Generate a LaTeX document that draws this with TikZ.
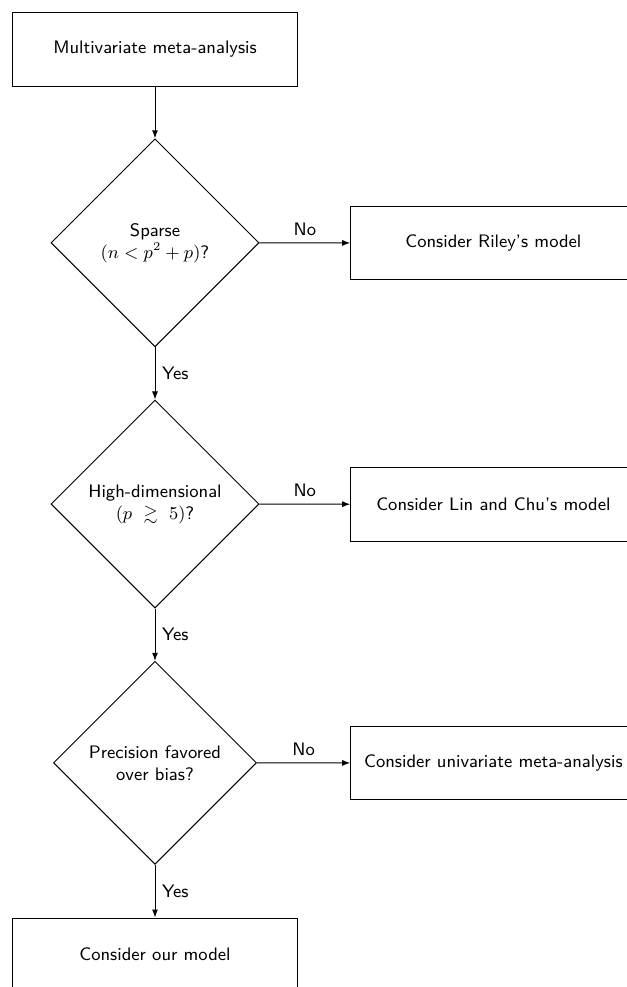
\documentclass[tikz,border=0pt]{standalone}
\usepackage{amssymb}
\usetikzlibrary{shapes.geometric,arrows.meta}
\begin{document}
\begin{tikzpicture}[x=0.5pt,y=-0.5pt,
  font=\sffamily\fontsize{9.05}{11}\selectfont,
  line width=0.5pt,
  box/.style={draw,rectangle,minimum width=142.7pt,minimum height=36.7pt,align=center,inner sep=2pt},
  decision/.style={draw,diamond,aspect=1,inner sep=0pt,align=center},
  arr/.style={-{Latex[length=4pt,width=3pt]}},
  lbl/.style={font=\sffamily\fontsize{9.05}{11}\selectfont}]
\clip (0,0) rectangle (627,987);
\node[box] (start) at (155,49.4) {Multivariate meta-analysis};
\node[decision,minimum width=104pt,minimum height=104pt] (d1) at (155,242.8) {Sparse\\$(n<p^2+p)$?};
\node[box] (riley) at (493.4,243) {Consider Riley's model};
\node[decision,minimum width=104pt,minimum height=104pt] (d2) at (155,504) {High-dimensional\\$(p\ \gtrsim\ 5)$?};
\node[box] (lin) at (493.4,504.3) {Consider Lin and Chu's model};
\node[decision,minimum width=101.5pt,minimum height=101.5pt] (d3) at (155,762.8) {Precision favored\\over bias?};
\node[box] (uni) at (493.4,763) {Consider univariate meta-analysis};
\node[box] (ours) at (155,954.7) {Consider our model};
\draw[arr] (start) -- (d1);
\draw[arr] (d1) -- node[above,lbl] {No} (riley);
\draw[arr] (d1) -- node[right,lbl] {Yes} (d2);
\draw[arr] (d2) -- node[above,lbl] {No} (lin);
\draw[arr] (d2) -- node[right,lbl] {Yes} (d3);
\draw[arr] (d3) -- node[above,lbl] {No} (uni);
\draw[arr] (d3) -- node[right,lbl] {Yes} (ours);
\end{tikzpicture}
\end{document}
